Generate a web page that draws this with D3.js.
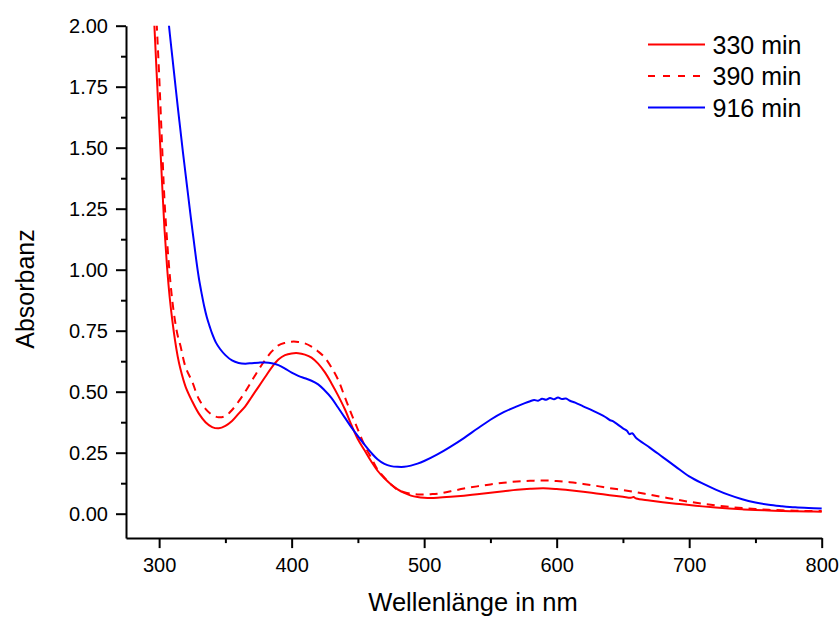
<!DOCTYPE html>
<html>
<head>
<meta charset="utf-8">
<script src="https://cdn.jsdelivr.net/npm/d3@7"></script>
<style>
  html, body { margin: 0; padding: 0; background: #fff; }
  svg { display: block; font-family: Arial, "Liberation Sans", sans-serif; }
</style>
</head>
<body>
<svg id="chart" width="840" height="618"></svg>
<script>
// ---- Data ----
const xMajorTicks = [300, 400, 500, 600, 700, 800];
const xMinorTicks = [350, 450, 550, 650, 750];
const yMajorTicks = [0, 0.25, 0.5, 0.75, 1.0, 1.25, 1.5, 1.75, 2.0];
const yMinorTicks = [0.125, 0.375, 0.625, 0.875, 1.125, 1.375, 1.625, 1.875];

const seriesNames = ["330 min", "390 min", "916 min"];
const seriesColors = ["#ff0000", "#ff0000", "#0000ff"];
const seriesDash = [null, "8,6", null];

const wl330 = [296,298,300,302,304,306,308,310,312,314,316,320,325,330,335,340,345,350,355,360,365,370,375,380,385,390,395,400,405,410,415,420,425,430,435,440,445,450,455,460,465,470,475,480,485,490,495,500,505,510,520,530,540,550,560,570,580,590,600,610,620,630,640,650,656,658,660,670,680,690,700,710,720,730,740,750,760,770,780,790,800];
const abs330 = [2.05,1.82,1.60,1.38,1.17,1.01,0.885,0.79,0.71,0.645,0.595,0.52,0.46,0.41,0.375,0.355,0.35,0.36,0.38,0.41,0.44,0.48,0.52,0.56,0.60,0.632,0.65,0.657,0.658,0.652,0.64,0.615,0.58,0.535,0.485,0.43,0.365,0.305,0.26,0.215,0.175,0.145,0.12,0.10,0.085,0.074,0.068,0.065,0.064,0.065,0.069,0.074,0.08,0.086,0.092,0.098,0.102,0.104,0.101,0.096,0.09,0.083,0.076,0.069,0.065,0.068,0.062,0.054,0.047,0.041,0.036,0.03,0.025,0.021,0.018,0.015,0.013,0.011,0.01,0.009,0.008];

const wl390 = [296,298,300,302,304,306,308,310,312,314,316,320,325,330,335,340,345,350,355,360,365,370,375,380,385,390,395,400,405,410,415,420,425,430,435,440,445,450,455,460,465,470,475,480,485,490,495,500,505,510,520,530,540,550,560,570,580,590,600,610,620,630,640,650,660,670,680,690,700,710,720,730,740,750,760,770,780,790,800];
const abs390 = [2.3,2.03,1.80,1.54,1.29,1.12,0.98,0.87,0.79,0.73,0.69,0.60,0.54,0.47,0.43,0.405,0.395,0.40,0.425,0.46,0.50,0.545,0.59,0.63,0.665,0.69,0.70,0.705,0.704,0.698,0.685,0.665,0.64,0.60,0.55,0.48,0.41,0.345,0.28,0.23,0.18,0.148,0.12,0.098,0.088,0.082,0.079,0.079,0.08,0.082,0.092,0.103,0.112,0.12,0.127,0.132,0.135,0.136,0.134,0.129,0.122,0.114,0.105,0.097,0.088,0.078,0.068,0.058,0.049,0.041,0.034,0.028,0.023,0.019,0.016,0.014,0.012,0.011,0.011];

const wl916 = [305,306,308,310,312,314,316,318,320,322,324,326,328,330,332,334,336,338,340,343,346,350,355,360,365,370,375,380,385,390,395,400,405,410,415,420,425,430,435,440,445,450,455,460,465,470,475,480,485,490,495,500,510,520,530,540,550,560,570,576,580,583,586,589,592,595,598,601,604,607,610,614,620,630,638,640,642,650,653,655,657,660,670,680,690,700,710,720,730,740,750,760,770,780,790,800];
const abs916 = [2.15,2.08,1.97,1.87,1.77,1.67,1.575,1.48,1.39,1.30,1.21,1.125,1.04,0.965,0.905,0.85,0.805,0.77,0.738,0.70,0.675,0.65,0.628,0.618,0.615,0.617,0.619,0.62,0.617,0.609,0.595,0.578,0.565,0.555,0.545,0.53,0.505,0.475,0.435,0.395,0.355,0.318,0.283,0.25,0.222,0.204,0.195,0.192,0.192,0.197,0.205,0.216,0.243,0.275,0.31,0.348,0.385,0.416,0.44,0.453,0.461,0.466,0.463,0.471,0.467,0.474,0.469,0.476,0.47,0.472,0.463,0.455,0.44,0.415,0.392,0.384,0.38,0.35,0.34,0.326,0.33,0.31,0.272,0.232,0.192,0.153,0.124,0.099,0.077,0.059,0.046,0.037,0.031,0.026,0.023,0.021];

const xLabel = "Wellenlänge in nm";
const yLabel = "Absorbanz";

// ---- Chart ----
const svg = d3.select("#chart");
const x = d3.scaleLinear().domain([275, 800]).range([126, 821.7]);
const y = d3.scaleLinear().domain([-0.1, 2.0]).range([538.1, 25.7]);

const series = [
  {name: seriesNames[0], wl: wl330, a: abs330, color: seriesColors[0], dash: seriesDash[0]},
  {name: seriesNames[1], wl: wl390, a: abs390, color: seriesColors[1], dash: seriesDash[1]},
  {name: seriesNames[2], wl: wl916, a: abs916, color: seriesColors[2], dash: seriesDash[2]}
];

svg.append("defs").append("clipPath").attr("id", "clip")
  .append("rect")
  .attr("x", x(275)).attr("y", y(2.0))
  .attr("width", x(800) - x(275) + 2).attr("height", y(-0.1) - y(2.0));

const line = d3.line()
  .x(d => x(d[0])).y(d => y(d[1]))
  .curve(d3.curveCatmullRom.alpha(0.5));

const g = svg.append("g").attr("clip-path", "url(#clip)");
series.forEach(s => {
  const pts = s.wl.map((w, i) => [w, s.a[i]]);
  g.append("path")
    .attr("d", line(pts))
    .attr("fill", "none")
    .attr("stroke", s.color)
    .attr("stroke-width", 2)
    .attr("stroke-dasharray", s.dash);
});

// Axes
const fontSize = 20;
const xAxis = svg.append("g").attr("transform", `translate(0,${y(-0.1)})`)
  .call(d3.axisBottom(x).tickValues(xMajorTicks).tickSize(10).tickSizeOuter(0).tickPadding(10).tickFormat(d3.format("d")));
const xMinor = svg.append("g").attr("transform", `translate(0,${y(-0.1)})`)
  .call(d3.axisBottom(x).tickValues(xMinorTicks).tickSize(5).tickSizeOuter(0).tickFormat(""));
xMinor.select(".domain").remove();

const yAxis = svg.append("g").attr("transform", `translate(${x(275)},0)`)
  .call(d3.axisLeft(y).tickValues(yMajorTicks).tickSize(10).tickSizeOuter(0).tickPadding(8).tickFormat(d3.format(".2f")));
const yMinor = svg.append("g").attr("transform", `translate(${x(275)},0)`)
  .call(d3.axisLeft(y).tickValues(yMinorTicks).tickSize(5).tickSizeOuter(0).tickFormat(""));
yMinor.select(".domain").remove();

[xAxis, xMinor, yAxis, yMinor].forEach(ax => {
  ax.selectAll("path, line").attr("stroke", "#000").attr("stroke-width", 2);
  ax.selectAll("text").attr("font-size", fontSize).attr("fill", "#000")
    .attr("font-family", 'Arial, "Liberation Sans", sans-serif');
});

// Axis titles
svg.append("text")
  .attr("x", 473).attr("y", 611)
  .attr("text-anchor", "middle")
  .attr("font-size", 25.5)
  .text(xLabel);

svg.append("text")
  .attr("transform", "translate(34,289) rotate(-90)")
  .attr("text-anchor", "middle")
  .attr("font-size", 25)
  .text(yLabel);

// Legend
const legendY = [44.5, 76, 107.5];
const lg = svg.append("g");
series.forEach((s, i) => {
  lg.append("line")
    .attr("x1", 648).attr("x2", 705)
    .attr("y1", legendY[i]).attr("y2", legendY[i])
    .attr("stroke", s.color).attr("stroke-width", 2)
    .attr("stroke-dasharray", s.dash ? "7,8" : null);
  lg.append("text")
    .attr("x", 712.5).attr("y", legendY[i] + 9)
    .attr("font-size", 25)
    .text(s.name);
});
</script>
</body>
</html>
